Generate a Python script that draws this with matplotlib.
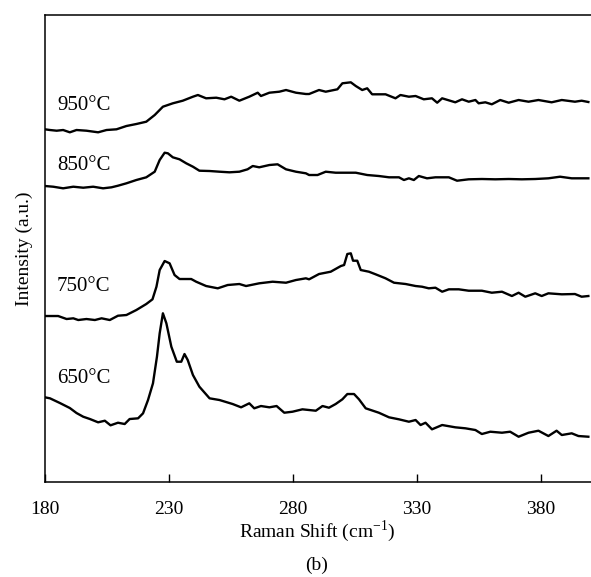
import numpy as np
import matplotlib
matplotlib.use("Agg")
import matplotlib.pyplot as plt

plt.rcParams['font.family'] = ['Liberation Serif', 'DejaVu Serif']
plt.rcParams['mathtext.fontset'] = 'custom'
plt.rcParams['mathtext.rm'] = 'Liberation Serif'

# Raman spectra (intensity in arbitrary, offset units)
shift_650 = [180.2, 182.2, 186.2, 190.2, 192.9, 195.6, 198.3, 201.6, 204.3, 206.6, 209.6, 212.3,
             214.3, 217.7, 219.7, 221.7, 223.7, 225.3, 226.4, 227.7, 229.1, 231.1, 233.3, 235.1,
             236.4, 237.7, 239.8, 242.4, 246.5, 250.5, 255.8, 259.2, 262.5, 264.5, 267.2, 270.6,
             273.5, 276.6, 279.9, 283.9, 286.6, 289.3, 292.0, 294.6, 297.3, 300.0, 302.0, 304.7,
             306.7, 309.4, 314.7, 318.8, 322.8, 326.8, 329.5, 331.5, 333.5, 336.1, 340.2, 345.5,
             349.6, 353.6, 356.2, 359.6, 364.3, 367.6, 371.0, 375.0, 379.0, 383.0, 386.3, 388.4,
             392.4, 395.1, 399.1]
int_650 = [102.7, 101.7, 97, 92, 87, 83.3, 81, 77.7, 79.3, 74.7, 77.3, 76,
           81, 81.7, 86.7, 100, 116.7, 143.3, 166.7, 186.7, 176.7, 153.3, 138.3, 138.3,
           146, 140, 125, 113.3, 101.7, 100, 96, 92.7, 96.7, 91.7, 94, 92.7,
           94, 87.3, 88.3, 90.7, 90, 89.3, 94, 92.3, 96, 100.7, 106, 106,
           100.7, 91.7, 87.3, 82.7, 80.7, 78.3, 80, 75, 77.3, 70.7, 75, 72.7,
           71.7, 70, 66, 68.3, 67.3, 68.3, 63.3, 67.3, 69.3, 64, 69.3, 65,
           66.7, 64, 63.3]

shift_750 = [180.2, 185.5, 188.9, 191.6, 193.6, 196.9, 200.3, 203.0, 206.3, 209.6, 213.0, 217.0,
             221.0, 223.5, 225.1, 226.4, 228.4, 230.4, 232.4, 234.4, 239.1, 241.1, 245.1, 249.8,
             253.8, 258.5, 261.2, 266.5, 271.9, 277.3, 281.3, 285.3, 286.6, 290.6, 295.3, 299.4,
             300.7, 302.0, 303.4, 304.3, 306.0, 307.4, 310.7, 313.4, 317.4, 320.8, 325.5, 329.5,
             332.1, 334.8, 337.5, 340.2, 342.9, 346.9, 350.9, 356.2, 360.2, 364.3, 368.3, 371.0,
             373.7, 377.7, 380.3, 383.0, 388.4, 393.7, 396.4, 399.1]
int_750 = [184, 184, 181, 181.7, 180, 181, 180, 181.7, 180, 184.3, 185, 190,
           196, 200.7, 213.3, 230, 239, 236.7, 225, 221, 221, 218.3, 214, 211.7,
           215, 216, 214, 216.7, 218.3, 217.3, 220, 221.7, 220.7, 226, 228.3, 234,
           235, 246, 246.7, 239.3, 239.3, 230, 228.3, 225.7, 221.7, 217.3, 216, 214,
           213.3, 211.7, 212.3, 208.3, 210.7, 210.7, 209.3, 209.3, 207.3, 208.3, 204, 207.3,
           203.3, 206.7, 204, 206.7, 205.7, 206, 203.3, 204]

shift_850 = [180.2, 183.5, 187.5, 191.6, 195.6, 199.6, 203.6, 207.0, 209.6, 213.0, 217.0, 221.0,
             224.4, 226.4, 228.4, 229.7, 231.7, 234.4, 237.1, 239.8, 242.4, 246.5, 250.5, 254.5,
             258.5, 261.8, 263.9, 266.5, 270.6, 273.9, 277.3, 281.3, 285.3, 286.6, 290.0, 293.3,
             297.3, 305.4, 310.0, 314.7, 318.8, 322.8, 324.8, 326.8, 328.8, 330.8, 334.1, 337.5,
             342.9, 346.2, 350.9, 356.2, 361.6, 367.0, 372.3, 377.7, 383.0, 387.7, 392.4, 399.1]
int_850 = [314, 313.3, 311.7, 313.3, 312.3, 313.3, 311.7, 312.7, 314.3, 316.7, 320, 322.7,
           328.3, 340, 347.3, 346.7, 342.7, 340.7, 336.7, 333.3, 329.3, 329, 328.3, 327.7,
           328.3, 330.7, 334, 332.7, 335, 335.7, 330.7, 328.3, 326.7, 325, 325, 328.3,
           327.3, 327.3, 325, 324, 322.7, 322.7, 320, 321.7, 320, 324, 321.7, 322.7,
           322.7, 319.3, 320.7, 321, 320.7, 321, 320.7, 321, 321.7, 323.3, 321.7, 321.7]

shift_950 = [180.2, 182.2, 184.9, 187.5, 190.2, 192.9, 196.9, 201.6, 205.0, 209.0, 213.0, 217.0,
             221.0, 224.4, 227.7, 231.7, 235.7, 239.8, 241.8, 245.1, 249.2, 252.5, 255.2, 258.5,
             262.5, 265.9, 267.2, 270.6, 274.6, 277.3, 281.3, 285.3, 286.6, 290.6, 293.3, 298.0,
             300.0, 303.4, 305.4, 308.0, 310.0, 312.0, 317.4, 321.4, 323.4, 326.8, 329.5, 332.8,
             336.1, 338.2, 340.2, 345.5, 348.2, 350.9, 353.6, 354.9, 357.6, 360.2, 363.6, 367.0,
             371.0, 375.0, 379.0, 384.3, 388.4, 393.7, 396.4, 399.1]
int_950 = [370.7, 370, 369.3, 370, 367.7, 370, 369.3, 367.7, 370, 370.7, 374, 376,
           378.3, 385, 393.3, 396.7, 399.3, 403.3, 405, 401.7, 402.3, 400.7, 403.3, 399.3,
           403.3, 407.3, 404, 407.3, 408.3, 410, 407.3, 406, 406, 410, 408.3, 410.7,
           416.7, 417.7, 414, 410, 411.7, 405.7, 405.7, 401.7, 405, 403.3, 404, 400.7,
           401.7, 397.3, 401.7, 397.7, 400.7, 398.3, 400, 396.7, 397.7, 395.7, 400, 397.3,
           400, 398.3, 400, 397.7, 400, 398.3, 399.3, 398]

temps = ['650°C', '750°C', '850°C', '950°C']
label_pos = [121.7, 213.3, 335, 395]
xticks = [180, 230, 280, 330, 380]

fig = plt.figure(figsize=(5.91, 5.77), dpi=100)
ax = fig.add_axes([0.0753, 0.1646, 0.924, 0.8094])

for sx, si in [(shift_650, int_650), (shift_750, int_750),
               (shift_850, int_850), (shift_950, int_950)]:
    ax.plot(sx, si, color='black', lw=1.7, solid_joinstyle='round')

for t, yp in zip(temps, label_pos):
    ax.text(185, yp, t, fontsize=15, va='center', ha='left')

ax.set_xlim(180, 400)
ax.set_ylim(18, 485)
ax.set_xticks(xticks)
ax.set_yticks([])
ax.tick_params(axis='x', direction='in', length=6, width=1, labelsize=14, pad=14)
ax.spines['right'].set_visible(False)
for s in ['left', 'bottom', 'top']:
    ax.spines[s].set_linewidth(1.1)

ax.set_xlabel('Raman Shift (cm$^{-1}$)', fontsize=14, labelpad=0)
ax.set_ylabel('Intensity (a.u.)', fontsize=14, labelpad=8)
fig.text(0.535, 0.021, '(b)', fontsize=14, ha='center', va='center')

fig.savefig('out.png', dpi=100)
